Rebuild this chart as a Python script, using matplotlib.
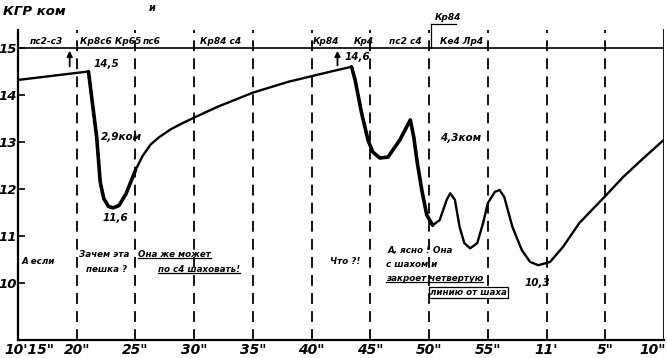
#!/usr/bin/env python3
"""Hand-drawn style KGR trace over game clock (10'15" .. 11'10")."""

import matplotlib
matplotlib.use("Agg")
import matplotlib.pyplot as plt
import matplotlib.transforms as mtransforms
from matplotlib.lines import Line2D

# clock seconds after 10' (15 .. 70) and KGR value
t = [15.0, 21.0, 21.7, 22.0, 22.3, 22.7, 23.1, 23.6, 24.2, 25.0, 25.6, 26.3,
     27.0, 28.0, 29.0, 30.0, 32.0, 35.0, 38.0, 40.0, 42.0, 43.4, 43.7, 44.25,
     44.8, 45.2, 45.8, 46.5, 47.5, 48.4, 48.7, 49.0, 49.4, 49.8, 50.3, 50.9,
     51.5, 51.8, 52.2, 52.6, 53.0, 53.5, 54.1, 54.6, 55.0, 55.6, 56.0, 56.4,
     57.1, 57.9, 58.6, 59.3, 60.3, 61.4, 62.8, 65.0, 66.5, 68.0, 70.0]
kgr = [14.32, 14.5, 13.1, 12.15, 11.8, 11.63, 11.6, 11.65, 11.9, 12.4, 12.7, 12.95,
       13.1, 13.27, 13.4, 13.52, 13.75, 14.05, 14.28, 14.4, 14.52, 14.6, 14.32, 13.62,
       13.04, 12.79, 12.66, 12.68, 13.04, 13.47, 13.1, 12.55, 11.95, 11.45, 11.23, 11.34,
       11.77, 11.91, 11.77, 11.19, 10.85, 10.74, 10.85, 11.28, 11.7, 11.94, 11.98, 11.83,
       11.19, 10.7, 10.45, 10.38, 10.45, 10.77, 11.28, 11.85, 12.25, 12.6, 13.05]

x_ticks = [15, 20, 25, 30, 35, 40, 45, 50, 55, 60, 65, 70]
x_labels = ["10'15\"", "20\"", "25\"", "30\"", "35\"", "40\"", "45\"", "50\"",
            "55\"", "11'", "5\"", "10\""]
y_ticks = [10, 11, 12, 13, 14, 15]

# move notes written along the 15 line
moves = [(16.0, "пс2-с3"), (20.3, "Кр8с6 Кр65"), (25.6, "пс6"), (30.5, "Кр84 с4"),
         (40.1, "Кр84"), (43.6, "Кр4"), (46.6, "пс2 с4"), (50.9, "Ке4 Лр4")]

# commentary: (t, value, text, underlined)
notes = [(15.3, 10.45, "А если", False), (20.2, 10.6, "Зачем эта", False),
         (20.8, 10.28, "пешка ?", False), (25.2, 10.6, "Она же может", True),
         (26.9, 10.28, "по с4 шаховать!", True), (41.6, 10.45, "Что ?!", False),
         (46.5, 10.7, "А, ясно ! Она", False), (46.3, 10.4, "с шахом и", False),
         (46.3, 10.09, "закроет четвертую", True)]
values = [(21.4, 14.66, "14,5"), (22.2, 11.38, "11,6"), (42.8, 14.8, "14,6"),
          (58.1, 10.0, "10,3"), (22.1, 13.1, "2,9ком"), (50.9, 13.08, "4,3ком")]

fig = plt.figure(figsize=(6.67, 3.58), dpi=100)
ax = fig.add_axes([18 / 667, 18 / 358, 646 / 667, 340 / 358])
ax.set_xlim(15, 70)
ax.set_ylim(8.79, 16.02)

hand = dict(fontstyle="italic", fontweight="bold", color="black")

# grid of clock marks
for xt in x_ticks[1:-1]:
    ax.plot([xt, xt], [8.79, 15.38], color="black", lw=1.3,
            linestyle=(0, (6, 4)))
ax.plot([70, 70], [8.79, 15.38], color="black", lw=1.3)
ax.axhline(15, color="black", lw=1.2)

# the trace
ax.plot(t, kgr, color="black", lw=1.7, solid_capstyle="round",
        solid_joinstyle="round")
heavy1 = [(a, b) for a, b in zip(t, kgr) if 21.0 <= a <= 25.0]
heavy2 = [(a, b) for a, b in zip(t, kgr) if 43.4 <= a <= 50.3]
for seg in (heavy1, heavy2):
    ax.plot([p[0] for p in seg], [p[1] for p in seg], color="black", lw=2.6,
            solid_capstyle="round", solid_joinstyle="round")

# arrows up to the 15 line
for xa, ya in [(19.4, 14.55), (42.2, 14.57)]:
    ax.annotate("", xy=(xa, 15.0), xytext=(xa, ya),
                arrowprops=dict(arrowstyle="-|>", color="black", lw=1.3,
                                mutation_scale=8))

for xm, txt in moves:
    ax.text(xm, 15.04, txt, fontsize=6.5, ha="left", va="bottom", **hand)
ax.text(50.5, 15.55, "Кр84", fontsize=6.5, ha="left", va="bottom", **hand)
ax.plot([50.2, 52.3], [15.52, 15.52], color="black", lw=0.9)
ax.plot([50.2, 50.2], [15.52, 15.0], color="black", lw=0.9)

underlined = []
for xn, yn, txt, ul in notes:
    tx = ax.text(xn, yn, txt, fontsize=6.3, ha="left", va="center", **hand)
    if ul:
        underlined.append(tx)
ax.text(50.1, 9.8, "линию от шаха", fontsize=6.3, ha="left", va="center",
        bbox=dict(boxstyle="square,pad=0.15", fc="white", ec="black", lw=0.9),
        **hand)
for xn, yn, txt in values:
    ax.text(xn, yn, txt, fontsize=7.5, ha="left", va="center", **hand)

ax.text(13.7, 15.77, "КГР ком", fontsize=9.5, ha="left", va="center",
        clip_on=False, **hand)
ax.text(26.4, 15.85, "и", fontsize=7, ha="center", va="center", **hand)

ax.spines["top"].set_visible(False)
ax.spines["right"].set_visible(False)
ax.spines["left"].set_bounds(8.79, 15.38)
ax.spines["left"].set_linewidth(1.6)
ax.spines["bottom"].set_linewidth(1.6)

ax.set_yticks(y_ticks)
ax.set_yticklabels([str(v) for v in y_ticks], fontsize=9.5, **hand)
ax.tick_params(axis="y", direction="in", length=5, width=1.2, pad=0.5)
ax.set_xticks(x_ticks)
ax.set_xticklabels(x_labels, fontsize=10, **hand)
ax.tick_params(axis="x", length=0, pad=2)

labels = ax.get_xticklabels()
labels[0].set_horizontalalignment("left")
labels[0].set_transform(labels[0].get_transform() +
                        mtransforms.ScaledTranslation(-14 / 100, 0, fig.dpi_scale_trans))
labels[-1].set_horizontalalignment("right")
labels[-1].set_transform(labels[-1].get_transform() +
                         mtransforms.ScaledTranslation(2 / 100, 0, fig.dpi_scale_trans))

# underline the marked notes using their drawn extents
fig.canvas.draw()
renderer = fig.canvas.get_renderer()
for tx in underlined:
    bb = tx.get_window_extent(renderer)
    y0 = bb.y0 + 1
    fig.add_artist(Line2D([bb.x0 / fig.dpi / 6.67, bb.x1 / fig.dpi / 6.67],
                          [y0 / fig.dpi / 3.58, y0 / fig.dpi / 3.58],
                          transform=fig.transFigure, color="black", lw=0.9))

fig.savefig("out.png", dpi=100)
